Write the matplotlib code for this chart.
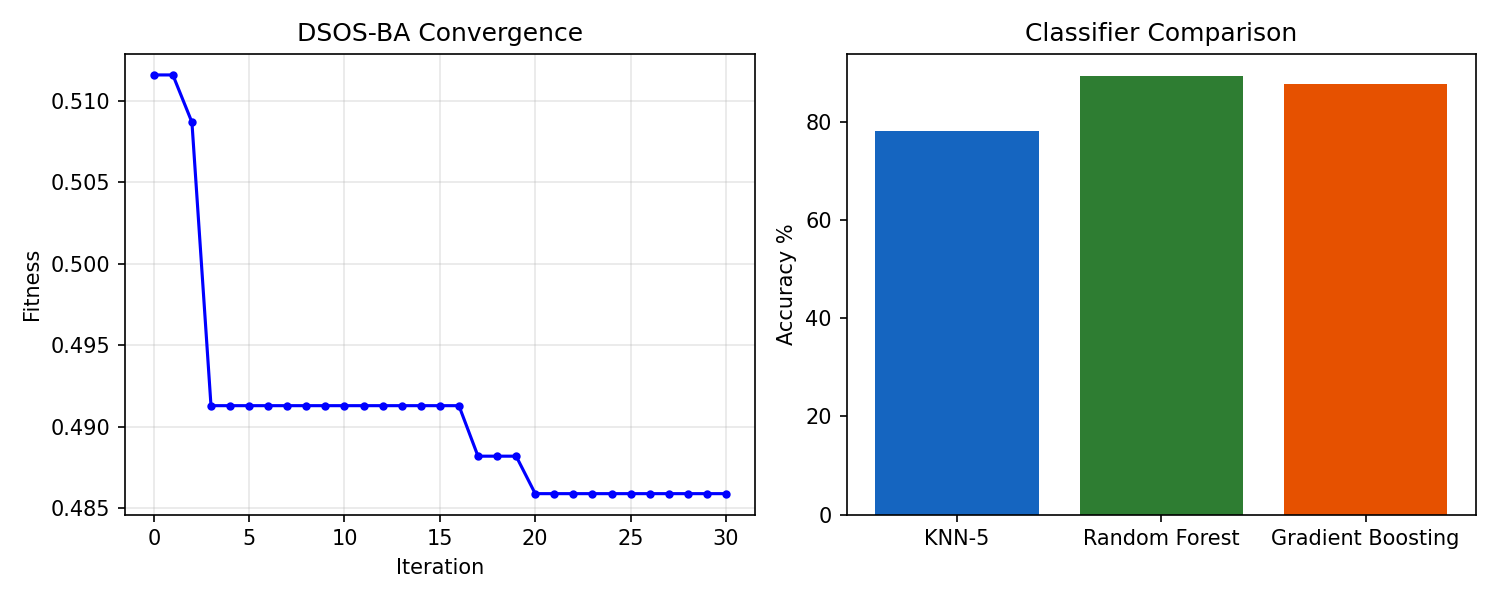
import matplotlib
matplotlib.use("Agg")
import matplotlib.pyplot as plt
import numpy as np

# convergence curve of DSOS-BA (best fitness per iteration)
fitness = [0.5116, 0.5116, 0.5087] + [0.4913] * 14 + [0.4882] * 3 + [0.4859] * 11
iterations = np.arange(len(fitness))

classifiers = ["KNN-5", "Random Forest", "Gradient Boosting"]
accuracy = [78.1, 89.3, 87.6]
bar_colors = ["#1565C0", "#2E7D32", "#E65100"]

fig, (ax1, ax2) = plt.subplots(1, 2, figsize=(10, 4), dpi=150)

ax1.plot(iterations, fitness, "b.-")
ax1.set_title("DSOS-BA Convergence")
ax1.set_xlabel("Iteration")
ax1.set_ylabel("Fitness")
ax1.grid(True, alpha=0.3)

ax2.bar(classifiers, accuracy, color=bar_colors)
ax2.set_title("Classifier Comparison")
ax2.set_ylabel("Accuracy %")

plt.tight_layout()
plt.savefig("out.png")
